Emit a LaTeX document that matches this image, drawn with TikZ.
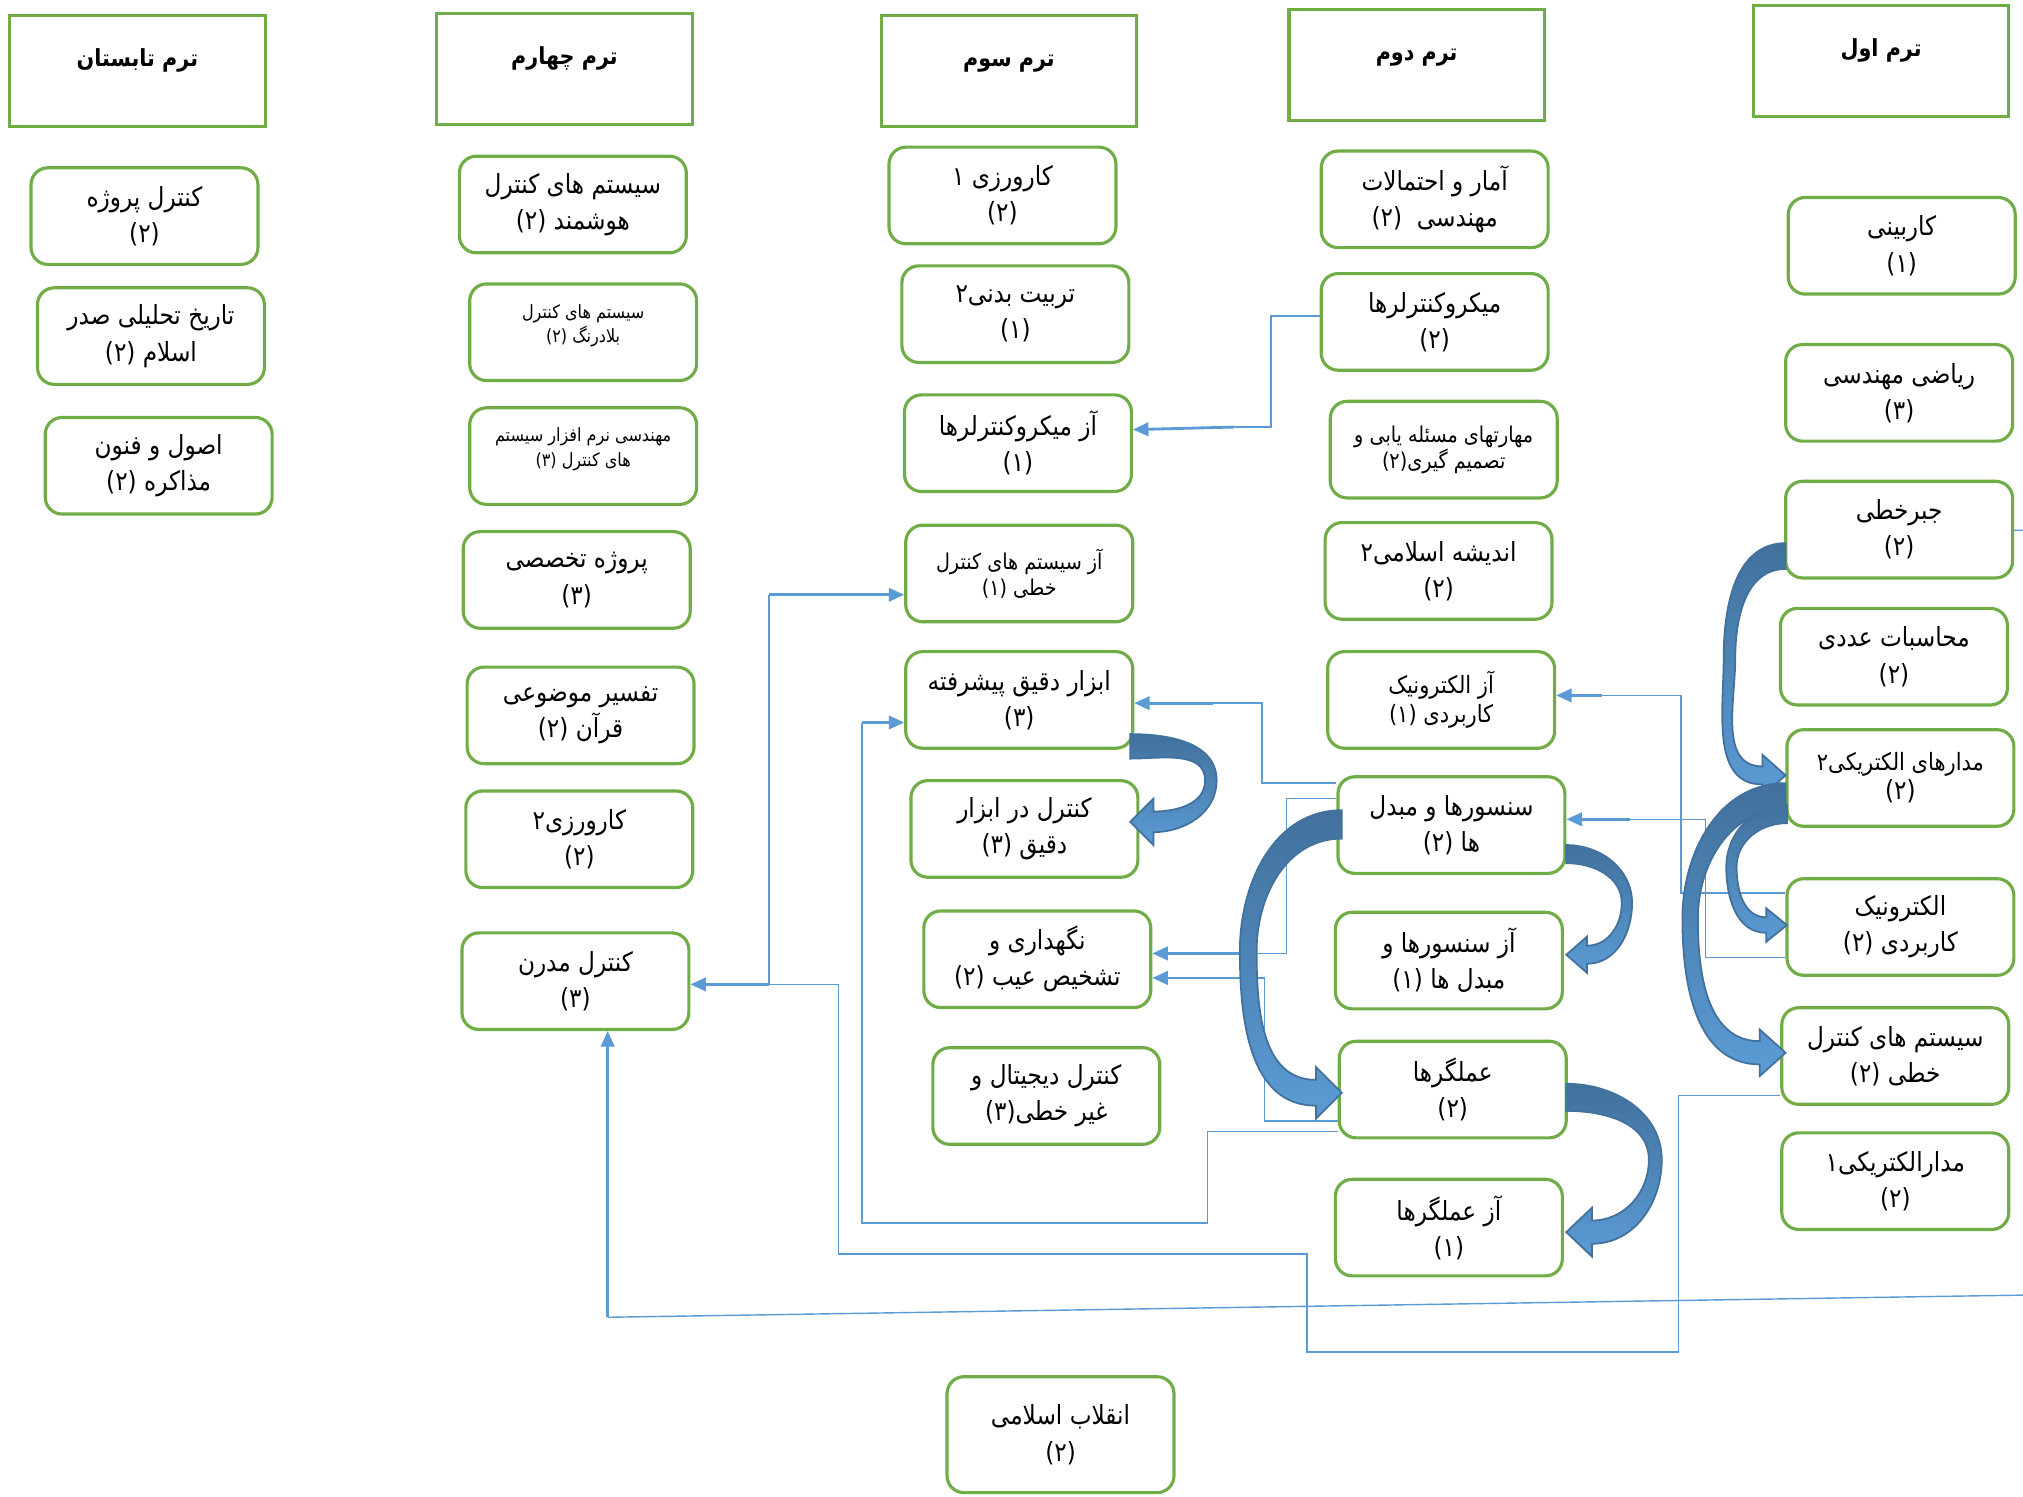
\documentclass[tikz,border=0pt]{standalone}
\usepackage{fontspec}
\usetikzlibrary{arrows.meta,calc}
\TeXXeTstate=1
\newfontfamily\fa[Script=Arabic,FakeStretch=0.88]{DejaVu Sans}
\newcommand\R[1]{\beginR#1\endR}
\newcommand\PP[1]{\beginL(#1)\endL}
\definecolor{bgreen}{HTML}{70AD47}
\definecolor{lblue}{HTML}{5B9BD5}
\definecolor{dblue}{HTML}{41719C}
\tikzset{
 box/.style={draw=bgreen, line width=0.9pt, rounded corners=4.8pt, minimum width=64.6pt, minimum height=27.5pt, align=center, inner sep=0pt, font=\fa\fontsize{7.5}{10.3}\selectfont},
 sbox/.style={box, font=\fa\fontsize{6.2}{7.4}\selectfont},
 sboxb/.style={box, font=\fa\fontsize{6.8}{8.2}\selectfont},
 xsbox/.style={box, font=\fa\fontsize{5.2}{7}\selectfont},
 hdr/.style={draw=bgreen, line width=0.9pt, minimum width=72.7pt, minimum height=31.6pt, align=center, inner sep=0pt, text height=5pt, text depth=7.5pt, font=\fa\bfseries\fontsize{6.7}{8}\selectfont},
 conn/.style={draw=lblue, line width=0.4pt},
 arrk/.style={draw=lblue, line width=0.8pt, -{Triangle[length=4.4pt,width=3.8pt]}},
 carr/.style={draw=dblue, line width=0.5pt, top color=dblue, bottom color=lblue}
}
\def\cL{18}
% right-bulging curved block arrow: x0,yT,yB,xM,ym,yH,w,h,s
\newcommand\CArR[9]{%
 \path[carr] (#1,#2) to[out=0,in=90] (#4,#5) to[out=-90,in=0] ({#1+\cL},{#6-#9}) -- ({#1+\cL},{#6-#8}) -- (#1,#6) -- ({#1+\cL},{#6+#8}) -- ({#1+\cL},{#6+#9}) to[out=0,in=-90] ({#4-#7},#5) to[out=90,in=0] (#1,#3) -- cycle;}
% left-bulging curved block arrow
\newcommand\CArL[9]{%
 \path[carr] (#1,#2) to[out=180,in=90] (#4,#5) to[out=-90,in=180] ({#1-\cL},{#6-#9}) -- ({#1-\cL},{#6-#8}) -- (#1,#6) -- ({#1-\cL},{#6+#8}) -- ({#1-\cL},{#6+#9}) to[out=180,in=-90] ({#4+#7},#5) to[out=90,in=180] (#1,#3) -- cycle;}
\begin{document}
\begin{tikzpicture}[x=0.012902cm,y=0.012902cm]
\useasboundingbox (0,0) rectangle (1568,-1160);
\fill[white] (0,0) rectangle (1568,-1160);
\clip (0,0) rectangle (1568,-1160);
% headers
\node[hdr] (h1) at (106.5,-55) {\R{ترم تابستان}};
\node[hdr] (h4) at (437.5,-53.5) {\R{ترم چهارم}};
\node[hdr] (h3) at (782,-55) {\R{ترم سوم}};
\node[hdr] (h2) at (1098,-50.5) {\R{ترم دوم}};
\node[hdr] (h5) at (1458,-47.5) {\R{ترم اول}};
% summer
\node[box] (kp) at (112,-167.5) {\R{کنترل پروژه}\\(۲)};
\node[box] (tt) at (117,-260.5) {\R{تاریخ تحلیلی صدر}\\\R{اسلام \PP{۲}}};
\node[box] (ou) at (123,-361) {\R{اصول و فنون}\\\R{مذاکره \PP{۲}}};
% fourth
\node[box] (hs) at (444,-158.5) {\R{سیستم های کنترل}\\\R{هوشمند \PP{۲}}};
\node[xsbox] (bl) at (452,-257.5) {\R{سیستم های کنترل}\\\R{بلادرنگ \PP{۲}}\\[-2pt]};
\node[xsbox] (mn) at (452,-353.5) {\R{مهندسی نرم افزار سیستم}\\\R{های کنترل \PP{۳}}\\[-2pt]};
\node[box] (pt) at (447,-449.5) {\R{پروژه تخصصی}\\(۳)};
\node[box] (tm) at (450,-554.5) {\R{تفسیر موضوعی}\\\R{قرآن \PP{۲}}};
\node[box] (k2) at (449,-650.5) {\R{کارورزی۲}\\(۲)};
\node[box] (km) at (446,-760.5) {\R{کنترل مدرن}\\(۳)};
% third
\node[box] (k1) at (777,-151.5) {\R{کارورزی ۱}\\(۲)};
\node[box] (tb) at (787,-243.5) {\R{تربیت بدنی۲}\\(۱)};
\node[box] (am) at (789,-343.5) {\R{آز میکروکنترلرها}\\(۱)};
\node[sbox] (as) at (790,-444.5) {\R{آز سیستم های کنترل}\\\R{خطی \PP{۱}}};
\node[box] (ab) at (790,-542.5) {\R{ابزار دقیق پیشرفته}\\(۳)};
\node[box] (ka) at (794,-642.5) {\R{کنترل در ابزار}\\\R{دقیق \PP{۳}}};
\node[box] (ng) at (804,-743.5) {\R{نگهداری و}\\\R{تشخیص عیب \PP{۲}}};
\node[box] (kd) at (811,-849.5) {\R{کنترل دیجیتال و}\\\R{غیر خطی\PP{۳}}};
\node[box, minimum height=33pt] (eq) at (822,-1112) {\R{انقلاب اسلامی}\\(۲)};
% second
\node[box] (ae) at (1112,-154.5) {\R{آمار و احتمالات}\\\R{مهندسی\ \ \PP{۲}}};
\node[box] (m2) at (1112,-249.5) {\R{میکروکنترلرها}\\(۲)};
\node[sbox] (mh) at (1119,-348.5) {\R{مهارتهای مسئله یابی و}\\\R{تصمیم گیری\PP{۲}}};
\node[box] (an) at (1115,-442.5) {\R{اندیشه اسلامی۲}\\(۲)};
\node[sboxb] (ael) at (1117,-542.5) {\R{آز الکترونیک}\\\R{کاربردی \PP{۱}}};
\node[box] (sm) at (1125,-639.5) {\R{سنسورها و مبدل}\\\R{ها \PP{۲}}};
\node[box] (asm) at (1123,-744.5) {\R{آز سنسورها و}\\\R{مبدل ها \PP{۱}}};
\node[box] (act) at (1126,-844.5) {\R{عملگرها}\\(۲)};
\node[box] (aact) at (1123,-951.5) {\R{آز عملگرها}\\(۱)};
% first
\node[box] (kb) at (1474,-190.5) {\R{کاربینی}\\(۱)};
\node[box] (rm) at (1472,-304.5) {\R{ریاضی مهندسی}\\(۳)};
\node[box] (jk) at (1472,-410.5) {\R{جبرخطی}\\(۲)};
\node[box] (mad) at (1468,-509) {\R{محاسبات عددی}\\(۲)};
\node[sboxb] (me2) at (1473,-603) {\R{مدارهای الکتریکی۲}\\{\fontsize{7.5}{9}\selectfont(۲)}};
\node[box] (el2) at (1473,-718.5) {\R{الکترونیک}\\\R{کاربردی \PP{۲}}};
\node[box] (sk2) at (1469,-818.5) {\R{سیستم های کنترل}\\\R{خطی \PP{۲}}};
\node[box] (me1) at (1469,-915.5) {\R{مدارالکتریکی۱}\\(۲)};
% thin connectors
\draw[conn] (m2.west |- 0,-245) -- (985,-245) -- (985,-331) -- (957,-331);
\draw[arrk] (957,-331) -- (am.east |- 0,-333);
\draw[conn] (sm.west |- 0,-607) -- (978,-607) -- (978,-545) -- (940,-545);
\draw[arrk] (940,-545) -- (ab.east |- 0,-545);
\draw[conn] (sm.west |- 0,-619) -- (997,-619) -- (997,-739) -- (969,-739);
\draw[arrk] (969,-739) -- (ng.east |- 0,-739);
\draw[conn] (act.west |- 0,-869) -- (980,-869) -- (980,-758) -- (922,-758);
\draw[arrk] (922,-758) -- (ng.east |- 0,-758);
\draw[conn] (act.west |- 0,-877) -- (936,-877) -- (936,-948) -- (668,-948) -- (668,-560);
\draw[arrk] (668,-560) -- (ab.west |- 0,-560);
\draw[conn] (el2.west |- 0,-692) -- (1303,-692) -- (1303,-539) -- (1242,-539);
\draw[arrk] (1242,-539) -- (ael.east |- 0,-539);
\draw[conn] (el2.west |- 0,-742) -- (1322,-742) -- (1322,-635) -- (1263,-635);
\draw[arrk] (1263,-635) -- (sm.east |- 0,-635);
\draw[conn] (sk2.west |- 0,-849) -- (1301,-849) -- (1301,-1048) -- (1013,-1048) -- (1013,-972) -- (650,-972) -- (650,-763) -- (596,-763);
\draw[arrk] (596,-763) -- (km.east |- 0,-763);
\draw[conn] (596,-763) -- (596,-461);
\draw[arrk] (596,-461) -- (as.west |- 0,-461);
\draw[conn] (jk.east |- 0,-411) -- (1620,-411) -- (1620,-1003) -- (471,-1021);
\draw[arrk] (471,-1021) -- (km.south -| 471,0);
% curved block arrows
\def\cL{18}\CArR{876}{-569}{-588}{943}{-605}{-637}{9}{18}{8}
\def\cL{16}\CArR{1214}{-655}{-669}{1265}{-700}{-740}{8}{14}{7}
\def\cL{20}\CArR{1214}{-840}{-861}{1288}{-899}{-955}{10}{19}{9}
\def\cL{20}\CArL{1040}{-628}{-650}{961}{-737}{-847}{13}{20}{10}
\def\cL{18}\CArL{1384}{-421}{-441}{1336}{-510}{-601}{9}{16}{7}
\def\cL{20}\CArL{1384}{-607}{-627}{1304}{-712}{-816}{12}{18}{9}
\def\cL{16}\CArL{1385}{-624}{-638}{1338}{-672}{-717}{8}{13}{6}
\end{tikzpicture}
\end{document}
